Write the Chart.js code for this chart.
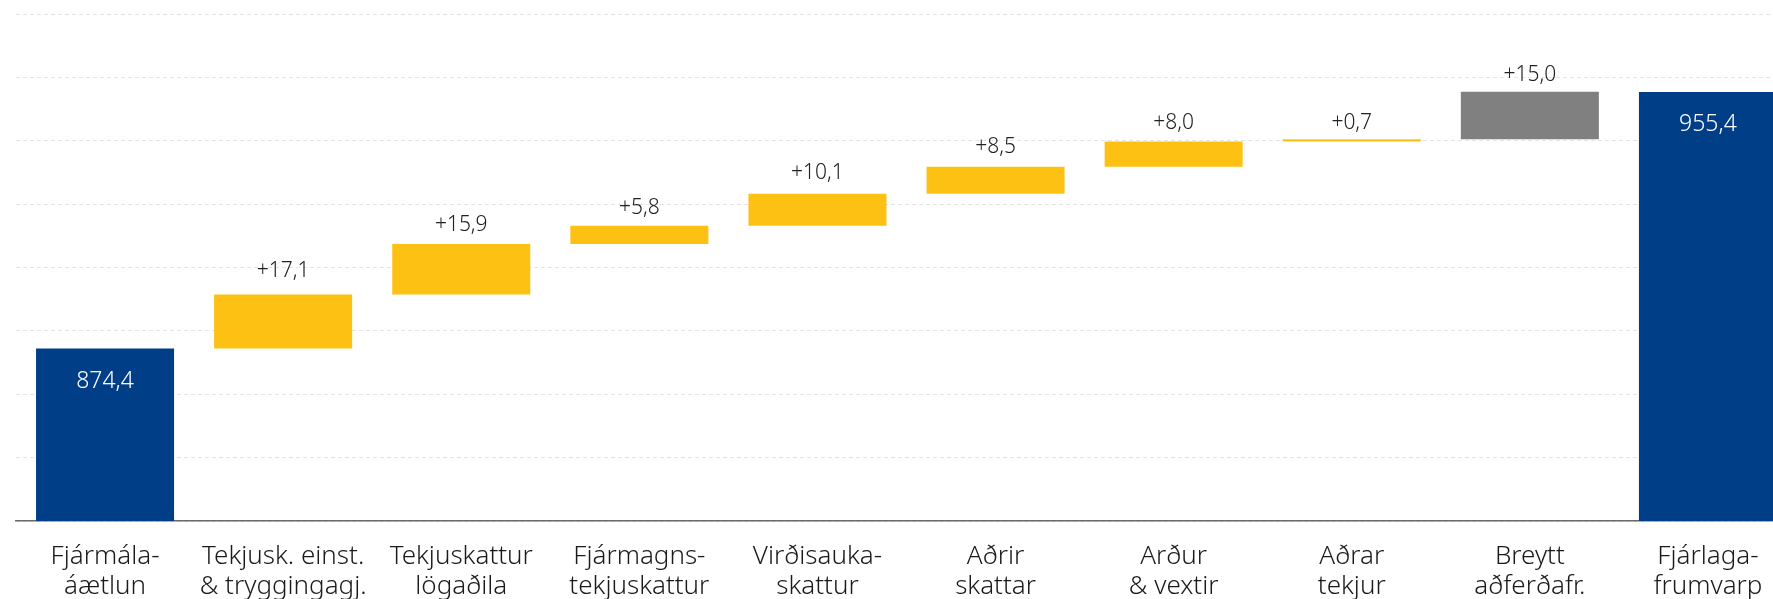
<!DOCTYPE html>
<html lang="is">
<head>
<meta charset="utf-8">
<title>Fjármálaáætlun – fjárlagafrumvarp</title>
<script src="https://cdn.jsdelivr.net/npm/chart.js@4/dist/chart.umd.min.js"></script>
<style>
    html, body { margin: 0; padding: 0; background: #fff; overflow: hidden; }
    /* the original picture is cropped on the right, so the canvas is a bit wider than the window */
    #wrap { width: 1800px; height: 599px; position: relative; }
</style>
</head>
<body>
<div id="wrap"><canvas id="waterfall"></canvas></div>
<script>
// Chart data
const categories = [
    ['Fjármála-', 'áætlun'],
    ['Tekjusk. einst.', '& tryggingagj.'],
    ['Tekjuskattur', 'lögaðila'],
    ['Fjármagns-', 'tekjuskattur'],
    ['Virðisauka-', 'skattur'],
    ['Aðrir', 'skattar'],
    ['Arður', '& vextir'],
    ['Aðrar', 'tekjur'],
    ['Breytt', 'aðferðafr.'],
    ['Fjárlaga-', 'frumvarp']
];
const startTotal = 874.4;
const endTotal = 955.4;
const changes = [17.1, 15.9, 5.8, 10.1, 8.5, 8.0, 0.7, 15.0];
const kinds = ['total', 'change', 'change', 'change', 'change', 'change', 'change', 'change', 'method', 'total'];
const yTicks = [820, 840, 860, 880, 900, 920, 940, 960, 980];

// label styling (px between bar top and label baseline, as placed in the original)
const labelGap = [0, 17, 13, 12, 15, 14, 12, 10, 11, 0];
const COLORS = { total: '#003f87', change: '#fdc113', method: '#808080' };
const FONT = "'Noto Sans', 'Open Sans', sans-serif";

function fmt(v) {
    return v.toFixed(1).replace('.', ',');
}

// floating bars: totals from the axis floor, changes stacked on the running sum
let running = startTotal;
const ranges = [[0, startTotal]];
const labels = [fmt(startTotal)];
changes.forEach(c => {
    ranges.push([running, running + c]);
    labels.push('+' + fmt(c));
    running += c;
});
ranges.push([0, endTotal]);
labels.push(fmt(endTotal));

const barLabels = {
    id: 'barLabels',
    afterDatasetsDraw(chart) {
        const ctx = chart.ctx;
        const meta = chart.getDatasetMeta(0);
        ctx.save();
        ctx.textAlign = 'center';
        ctx.textBaseline = 'alphabetic';
        meta.data.forEach((bar, i) => {
            const top = Math.min(bar.y, bar.base);
            if (kinds[i] === 'total') {
                ctx.font = '300 23px ' + FONT;
                ctx.fillStyle = '#ffffff';
                ctx.fillText(labels[i], bar.x, top + 39);
            } else {
                ctx.font = '300 21px ' + FONT;
                ctx.fillStyle = '#222222';
                ctx.fillText(labels[i], bar.x, top - labelGap[i]);
            }
        });
        ctx.restore();
    }
};

new Chart(document.getElementById('waterfall'), {
    type: 'bar',
    data: {
        labels: categories,
        datasets: [{
            data: ranges,
            backgroundColor: kinds.map(k => COLORS[k]),
            borderWidth: 0,
            borderSkipped: false,
            categoryPercentage: 1.0,
            barPercentage: 0.775
        }]
    },
    options: {
        responsive: true,
        maintainAspectRatio: false,
        animation: false,
        layout: { padding: { left: 16, right: 3, top: 14, bottom: 0 } },
        plugins: {
            legend: { display: false },
            tooltip: { enabled: false }
        },
        scales: {
            x: {
                grid: { display: false, drawTicks: false },
                border: { display: true, color: '#6b6b6b', width: 1.5 },
                ticks: {
                    color: '#1a1a1a',
                    padding: 21,
                    maxRotation: 0,
                    autoSkip: false,
                    font: { family: FONT, size: 26, weight: '300', lineHeight: 1.15 }
                },
                afterFit(scale) { scale.height = 78; }
            },
            y: {
                min: yTicks[0],
                max: yTicks[yTicks.length - 1],
                afterBuildTicks(scale) { scale.ticks = yTicks.map(v => ({ value: v })); },
                grid: { color: '#e4e4e4', lineWidth: 1, drawTicks: false },
                border: { display: false, dash: [4, 3] },
                ticks: { display: false },
                afterFit(scale) { scale.width = 0; }
            }
        }
    },
    plugins: [barLabels]
});
</script>
</body>
</html>
